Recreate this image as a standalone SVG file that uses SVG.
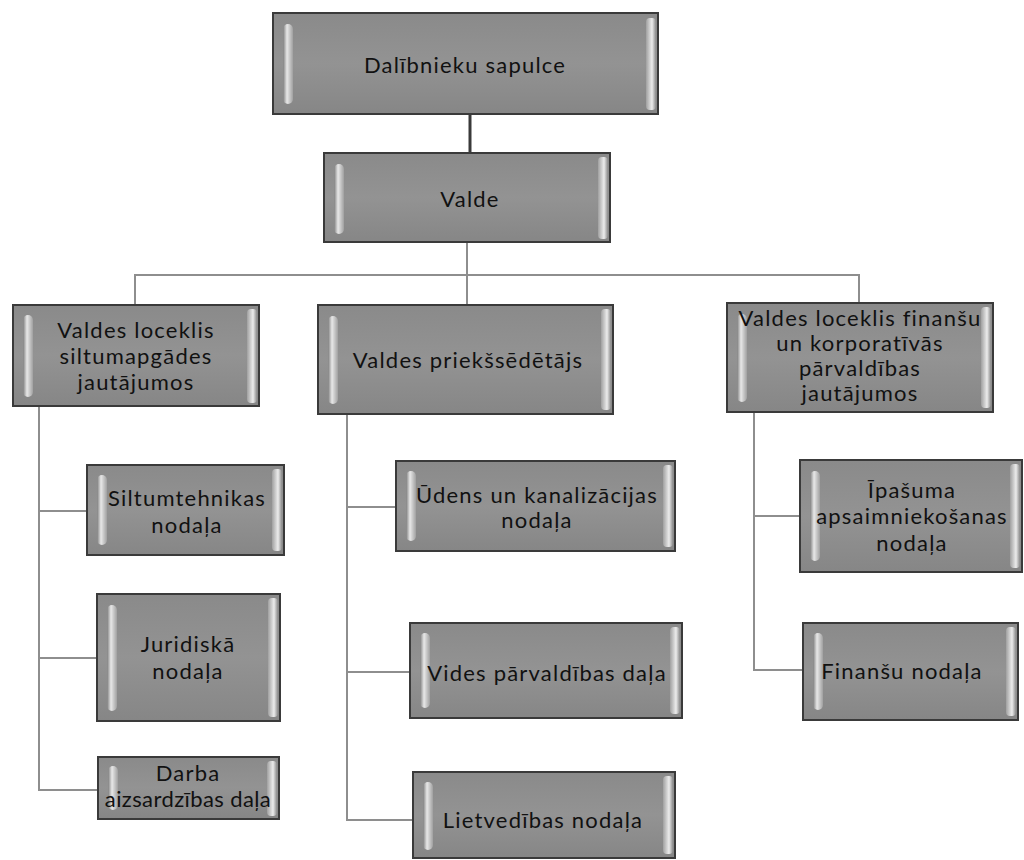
<svg xmlns="http://www.w3.org/2000/svg" width="1024" height="860" viewBox="0 0 1024 860">
<defs>
<linearGradient id="lb" x1="0" y1="0" x2="1" y2="0">
<stop offset="0" stop-color="#808080"/>
<stop offset="0.4" stop-color="#e8e8e8"/>
<stop offset="1" stop-color="#a0a0a0"/>
</linearGradient>
<linearGradient id="rb" x1="0" y1="0" x2="1" y2="0">
<stop offset="0" stop-color="#a0a0a0"/>
<stop offset="0.6" stop-color="#ececec"/>
<stop offset="1" stop-color="#8a8a8a"/>
</linearGradient>
<linearGradient id="bg" x1="0" y1="0" x2="0" y2="1">
<stop offset="0" stop-color="#8a8a8a"/>
<stop offset="0.5" stop-color="#939393"/>
<stop offset="1" stop-color="#868686"/>
</linearGradient>
</defs>
<style>
.box{fill:url(#bg);stroke:#3a3a3a;stroke-width:2}
.lb{fill:url(#lb)}
.rb{fill:url(#rb)}
.t{font-family:Lato,"Open Sans",sans-serif;font-size:22px;letter-spacing:1.2px;fill:#111111;text-anchor:middle}
.c{stroke:#8e8e8e;stroke-width:2;fill:none}
</style>
<rect width="1024" height="860" fill="#ffffff"/>
<g id="connectors">
<line x1="470" y1="114" x2="470" y2="153" stroke="#3a3a3a" stroke-width="3"/>
<polyline class="c" points="467,242 467,305"/>
<polyline class="c" points="135,305 135,275 859,275 859,303"/>
<polyline class="c" points="39,406 39,790 98,790"/>
<line class="c" x1="39" y1="511" x2="87" y2="511"/>
<line class="c" x1="39" y1="658" x2="97" y2="658"/>
<polyline class="c" points="347,414 347,820 413,820"/>
<line class="c" x1="347" y1="507" x2="396" y2="507"/>
<line class="c" x1="347" y1="672" x2="410" y2="672"/>
<polyline class="c" points="754,412 754,670 803,670"/>
<line class="c" x1="754" y1="516" x2="800" y2="516"/>
</g>
<g id="n_dalibnieki">
<rect class="box" x="273" y="13" width="385" height="101"/>
<rect class="lb" x="283" y="24" width="10" height="80" rx="5"/>
<rect class="rb" x="646" y="18" width="10" height="92" rx="4"/>
<text class="t" x="465" y="73">Dalībnieku sapulce</text>
</g>
<g id="n_valde">
<rect class="box" x="324" y="153" width="286" height="89"/>
<rect class="lb" x="334" y="164" width="10" height="70" rx="5"/>
<rect class="rb" x="598" y="157" width="10" height="82" rx="4"/>
<text class="t" x="470" y="207">Valde</text>
</g>
<g id="n_siltumapgade">
<rect class="box" x="13" y="305" width="246" height="101"/>
<rect class="lb" x="23" y="315" width="10" height="82" rx="5"/>
<rect class="rb" x="247" y="309" width="10" height="94" rx="4"/>
<text class="t" x="136" y="338">Valdes loceklis</text>
<text class="t" x="136" y="364">siltumapgādes</text>
<text class="t" x="136" y="390">jautājumos</text>
</g>
<g id="n_priekssedetajs">
<rect class="box" x="318" y="305" width="295" height="109"/>
<rect class="lb" x="328" y="316" width="10" height="88" rx="5"/>
<rect class="rb" x="601" y="309" width="10" height="101" rx="4"/>
<text class="t" x="468" y="368">Valdes priekšsēdētājs</text>
</g>
<g id="n_finansu_loceklis">
<rect class="box" x="727" y="303" width="266" height="109"/>
<rect class="lb" x="737" y="314" width="10" height="88" rx="5"/>
<rect class="rb" x="981" y="307" width="10" height="101" rx="4"/>
<text class="t" x="860" y="326">Valdes loceklis finanšu</text>
<text class="t" x="860" y="351">un korporatīvās</text>
<text class="t" x="860" y="376">pārvaldības</text>
<text class="t" x="860" y="401">jautājumos</text>
</g>
<g id="n_siltumtehnikas">
<rect class="box" x="87" y="465" width="197" height="90"/>
<rect class="lb" x="97" y="475" width="10" height="70" rx="5"/>
<rect class="rb" x="272" y="469" width="10" height="82" rx="4"/>
<text class="t" x="187" y="506">Siltumtehnikas</text>
<text class="t" x="187" y="533">nodaļa</text>
</g>
<g id="n_juridiska">
<rect class="box" x="97" y="594" width="183" height="127"/>
<rect class="lb" x="107" y="605" width="10" height="106" rx="5"/>
<rect class="rb" x="268" y="598" width="10" height="119" rx="4"/>
<text class="t" x="188" y="652">Juridiskā</text>
<text class="t" x="188" y="679">nodaļa</text>
</g>
<g id="n_darba">
<rect class="box" x="98" y="757" width="181" height="62"/>
<rect class="lb" x="108" y="766" width="10" height="44" rx="5"/>
<rect class="rb" x="267" y="761" width="10" height="55" rx="4"/>
<text class="t" x="188" y="781">Darba</text>
<text class="t" x="188" y="807" style="letter-spacing:0.4px">aizsardzības daļa</text>
</g>
<g id="n_udens">
<rect class="box" x="396" y="461" width="279" height="90"/>
<rect class="lb" x="406" y="471" width="10" height="70" rx="5"/>
<rect class="rb" x="663" y="465" width="10" height="82" rx="4"/>
<text class="t" x="537" y="503">Ūdens un kanalizācijas</text>
<text class="t" x="537" y="528">nodaļa</text>
</g>
<g id="n_vides">
<rect class="box" x="410" y="623" width="272" height="95"/>
<rect class="lb" x="420" y="633" width="10" height="75" rx="5"/>
<rect class="rb" x="670" y="627" width="10" height="87" rx="4"/>
<text class="t" x="547" y="681">Vides pārvaldības daļa</text>
</g>
<g id="n_lietvedibas">
<rect class="box" x="413" y="772" width="262" height="86"/>
<rect class="lb" x="423" y="782" width="10" height="68" rx="5"/>
<rect class="rb" x="663" y="776" width="10" height="78" rx="4"/>
<text class="t" x="543" y="828">Lietvedības nodaļa</text>
</g>
<g id="n_ipasuma">
<rect class="box" x="800" y="460" width="222" height="112"/>
<rect class="lb" x="810" y="471" width="10" height="90" rx="5"/>
<rect class="rb" x="1010" y="464" width="10" height="104" rx="4"/>
<text class="t" x="912" y="498">Īpašuma</text>
<text class="t" x="912" y="524">apsaimniekošanas</text>
<text class="t" x="912" y="551">nodaļa</text>
</g>
<g id="n_finansu">
<rect class="box" x="803" y="623" width="215" height="97"/>
<rect class="lb" x="813" y="633" width="10" height="77" rx="5"/>
<rect class="rb" x="1006" y="627" width="10" height="89" rx="4"/>
<text class="t" x="902" y="679">Finanšu nodaļa</text>
</g>
</svg>
